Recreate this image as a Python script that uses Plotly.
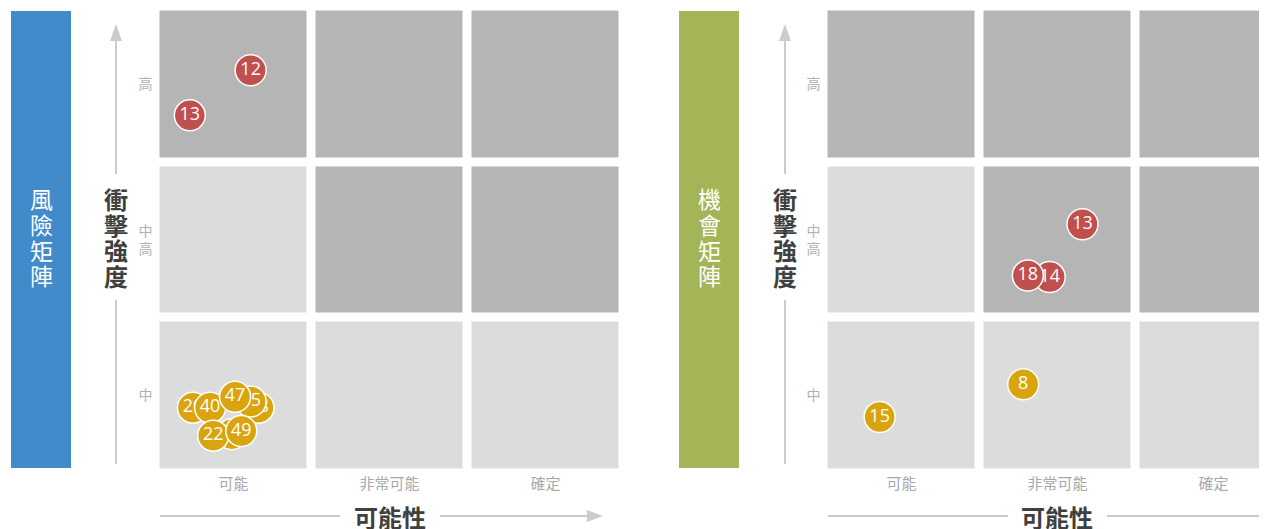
import plotly.graph_objects as go

# The page body has an 8px margin, so the figure is sized to the visible area
OFF = 8
FW, FH = 1267 - OFF, 529 - OFF
FONT = "Noto Sans CJK TC"

# ---- data ----
likelihood_labels = ["可能", "非常可能", "確定"]
impact_labels = ["中", "中<br>高", "高"]
# cell severity (rows bottom->top: 中, 中高, 高); 0 = light, 1 = dark
cell_level = [[0, 0, 0], [0, 1, 1], [1, 1, 1]]

# risk matrix items (likelihood score 0-3, impact score 0-3), drawn in order
risk_ids = ["38", "35", "20", "40", "47", "41", "22", "49", "13", "12"]
risk_x = [0.66, 0.61, 0.24, 0.35, 0.51, 0.49, 0.37, 0.55, 0.22, 0.61]
risk_y = [0.42, 0.46, 0.42, 0.42, 0.49, 0.25, 0.24, 0.27, 2.30, 2.59]
risk_type = ["low", "low", "low", "low", "low", "low", "low", "low", "high", "high"]

# opportunity matrix items
opp_ids = ["15", "8", "14", "18", "13"]
opp_x = [0.36, 1.28, 1.45, 1.31, 1.66]
opp_y = [0.36, 0.57, 1.26, 1.27, 1.60]
opp_type = ["low", "low", "high", "high", "high"]

COLORS = {"low": "#d9a40e", "high": "#c0504d"}
CELL_LIGHT, CELL_DARK = "#dbdddc", "#b4b5b4"
AXIS_GREY = "#cccccc"


def px(x):
    return (x - OFF) / FW


def py(y):
    return 1 - (y - OFF) / FH


fig = go.Figure()

CELL = 156.0   # x pitch in px
CELLY = 155.5  # y pitch in px
yrange = [0, (473.0 - OFF) / CELLY]

panels = [
    dict(xa="x", ya="y", xrange=[0, 3], ids=risk_ids, xs=risk_x, ys=risk_y, types=risk_type),
    dict(xa="x2", ya="y2", xrange=[0, (1267 - 823.5) / CELL], ids=opp_ids, xs=opp_x, ys=opp_y, types=opp_type),
]

for p in panels:
    fig.add_trace(go.Heatmap(
        z=cell_level, x=[0.5, 1.5, 2.5], y=[0.5, 1.5, 2.5],
        colorscale=[[0, CELL_LIGHT], [1, CELL_DARK]], zmin=0, zmax=1,
        showscale=False, xgap=9, ygap=9, hoverinfo="skip",
        xaxis=p["xa"], yaxis=p["ya"]))
    for i, lab in enumerate(p["ids"]):
        fig.add_trace(go.Scatter(
            x=[p["xs"][i]], y=[p["ys"][i]], mode="markers+text", text=[lab],
            textposition="middle center",
            textfont=dict(family="Open Sans", size=18, color="white"),
            marker=dict(size=31, color=COLORS[p["types"][i]], line=dict(color="white", width=1.5)),
            xaxis=p["xa"], yaxis=p["ya"], showlegend=False, hoverinfo="skip", cliponaxis=False))

ydom = [py(473.0), 1]
axis_common = dict(showgrid=False, zeroline=False, showline=False, ticks="", fixedrange=True)
xtickfont = dict(size=15, color="#a8a8a8", family=FONT)
ytickfont = dict(size=14, color="#b0b0b0", family=FONT)
fig.update_layout(
    width=FW, height=FH, margin=dict(l=0, r=0, t=0, b=0),
    paper_bgcolor="white", plot_bgcolor="white", showlegend=False,
    font=dict(family=FONT),
    xaxis=dict(domain=[px(155.5), px(623.5)], range=panels[0]["xrange"], tickvals=[0.5, 1.5, 2.5],
               ticktext=likelihood_labels, tickfont=xtickfont, **axis_common),
    yaxis=dict(domain=ydom, range=yrange, tickvals=[0.5, 1.5, 2.5], ticktext=impact_labels,
               tickfont=ytickfont, ticklabelstandoff=2, **axis_common),
    xaxis2=dict(domain=[px(823.5), 1], range=panels[1]["xrange"], tickvals=[0.5, 1.5, 2.5],
                ticktext=likelihood_labels, tickfont=xtickfont, anchor="y2", **axis_common),
    yaxis2=dict(domain=ydom, range=yrange, tickvals=[0.5, 1.5, 2.5], ticktext=impact_labels,
                tickfont=ytickfont, ticklabelstandoff=2, anchor="x2", **axis_common),
)

shapes = []
annotations = []


def vertical_text(text, x, top, pitch, size, color, bold=False):
    for k, ch in enumerate(text):
        annotations.append(dict(xref="paper", yref="paper", x=px(x), y=py(top + pitch * (k + 0.5)),
                                text=f"<b>{ch}</b>" if bold else ch, showarrow=False,
                                font=dict(size=size, color=color, family=FONT),
                                xanchor="center", yanchor="middle"))


def add_side(bar_x0, bar_color, bar_text, yaxis_x, xline_segments, xtitle_x, arrow_tip):
    shapes.append(dict(type="rect", xref="paper", yref="paper", x0=px(bar_x0), x1=px(bar_x0 + 60),
                       y0=py(468), y1=py(11), fillcolor=bar_color, line=dict(width=0), layer="below"))
    vertical_text(bar_text, bar_x0 + 30, 185, 25.8, 23, "white")
    # vertical impact axis
    for y0, y1 in [(40, 174), (300, 464)]:
        shapes.append(dict(type="line", xref="paper", yref="paper", x0=px(yaxis_x), x1=px(yaxis_x),
                           y0=py(y1), y1=py(y0), line=dict(color=AXIS_GREY, width=2)))
    shapes.append(dict(type="path", xref="paper", yref="paper",
                       path=f"M {px(yaxis_x-6)} {py(41)} L {px(yaxis_x+6)} {py(41)} L {px(yaxis_x)} {py(24)} Z",
                       fillcolor=AXIS_GREY, line=dict(width=0)))
    vertical_text("衝擊強度", yaxis_x, 186, 25.5, 24, "#404040", bold=True)
    # horizontal likelihood axis
    for x0, x1 in xline_segments:
        shapes.append(dict(type="line", xref="paper", yref="paper", x0=px(x0), x1=px(x1),
                           y0=py(516), y1=py(516), line=dict(color=AXIS_GREY, width=2)))
    if arrow_tip:
        shapes.append(dict(type="path", xref="paper", yref="paper",
                           path=f"M {px(arrow_tip-16)} {py(510)} L {px(arrow_tip-16)} {py(522)} L {px(arrow_tip)} {py(516)} Z",
                           fillcolor=AXIS_GREY, line=dict(width=0)))
    annotations.append(dict(xref="paper", yref="paper", x=px(xtitle_x), y=py(516), text="<b>可能性</b>",
                            showarrow=False, font=dict(size=24, color="#404040", family=FONT),
                            xanchor="center", yanchor="middle"))


add_side(11, "#418bca", "風險矩陣", 116, [(160, 340), (440, 590)], 390, 603)
add_side(679, "#a3b557", "機會矩陣", 785, [(828, 1008), (1107, 1267)], 1057, None)

fig.update_layout(shapes=shapes, annotations=annotations)
fig.write_html("out.html")
